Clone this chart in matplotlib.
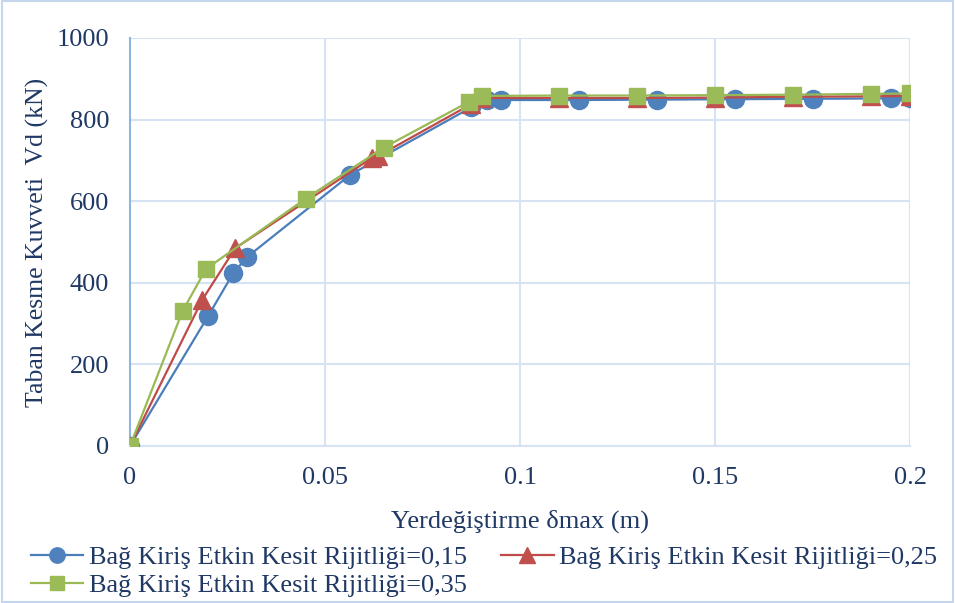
import matplotlib
matplotlib.use("Agg")
import matplotlib.pyplot as plt
from matplotlib.patches import Rectangle

x_015 = [0, 0.020, 0.0265, 0.030, 0.0565, 0.0875, 0.0915, 0.095, 0.115, 0.135, 0.155, 0.175, 0.195, 0.2]
y_015 = [0, 318, 424, 463, 665, 830, 848, 848, 848, 849, 850, 851, 852, 853]

x_025 = [0, 0.0185, 0.027, 0.062, 0.0635, 0.0875, 0.090, 0.110, 0.130, 0.150, 0.170, 0.190, 0.2]
y_025 = [0, 358, 485, 706, 710, 838, 853, 853, 853, 854, 856, 857, 858]

x_035 = [0, 0.0135, 0.0195, 0.045, 0.065, 0.0868, 0.0903, 0.110, 0.130, 0.150, 0.170, 0.190, 0.2]
y_035 = [0, 331, 434, 606, 731, 843, 858, 859, 859, 860, 861, 863, 864]

labels = ["Bağ Kiriş Etkin Kesit Rijitliği=0,15",
          "Bağ Kiriş Etkin Kesit Rijitliği=0,25",
          "Bağ Kiriş Etkin Kesit Rijitliği=0,35"]
xticks = [0, 0.05, 0.1, 0.15, 0.2]
xticklabels = ["0", "0.05", "0.1", "0.15", "0.2"]
yticks = [0, 200, 400, 600, 800, 1000]

plt.rcParams['font.family'] = ['Liberation Serif', 'DejaVu Serif']
txt = '#1F3864'
grid_c = '#D6E3F4'

fig = plt.figure(figsize=(9.55, 6.03), dpi=100)
fig.patches.append(Rectangle((0.002, 0.002), 0.996, 0.996, transform=fig.transFigure,
                             fill=False, edgecolor='#C5D7EE', linewidth=1.5))
ax = fig.add_axes([130/955, 1-446/603, 780/955, 408/603])

l1, = ax.plot(x_015, y_015, color='#4A7EBB', lw=1.6, marker='o', ms=13,
              mfc='#4F81BD', mec='#4F81BD', zorder=3)
l2, = ax.plot(x_025, y_025, color='#BE4B48', lw=1.6, marker='^', ms=13,
              mfc='#C0504D', mec='#C0504D', zorder=4)
l3, = ax.plot(x_035, y_035, color='#98B954', lw=1.6, marker='s', ms=12,
              mfc='#9BBB59', mec='#9BBB59', zorder=5)

ax.set_xlim(0, 0.2)
ax.set_ylim(0, 1000)
ax.set_xticks(xticks)
ax.set_xticklabels(xticklabels)
ax.set_yticks(yticks)
ax.grid(True, color=grid_c, lw=1.5)
ax.set_axisbelow(True)
for s in ['top', 'right']:
    ax.spines[s].set_visible(False)
ax.spines['left'].set_color('#8EB4E3')
ax.spines['bottom'].set_color(grid_c)
ax.spines['left'].set_linewidth(1.5)
ax.spines['bottom'].set_linewidth(1.5)
ax.tick_params(length=0, labelsize=19, labelcolor=txt)
ax.tick_params(axis='y', pad=15)
ax.tick_params(axis='x', pad=15)
ax.set_xlabel("Yerdeğiştirme δmax (m)", fontsize=19, color=txt, labelpad=15)
ax.set_ylabel("Taban Kesme Kuvveti  Vd (kN)", fontsize=18.5, color=txt)
ax.yaxis.set_label_coords((49 - 130) / 780, 0.5)

leg = fig.legend([l1, l3, l2], [labels[0], labels[2], labels[1]], ncol=2,
                 loc='upper left', bbox_to_anchor=(0.021, 0.112), frameon=False,
                 fontsize=19, handlelength=2.0, handletextpad=0.2, columnspacing=1.3,
                 labelspacing=0.15, borderaxespad=0, markerscale=0.85)
for t in leg.get_texts():
    t.set_color(txt)

fig.savefig("out.png", dpi=100)
